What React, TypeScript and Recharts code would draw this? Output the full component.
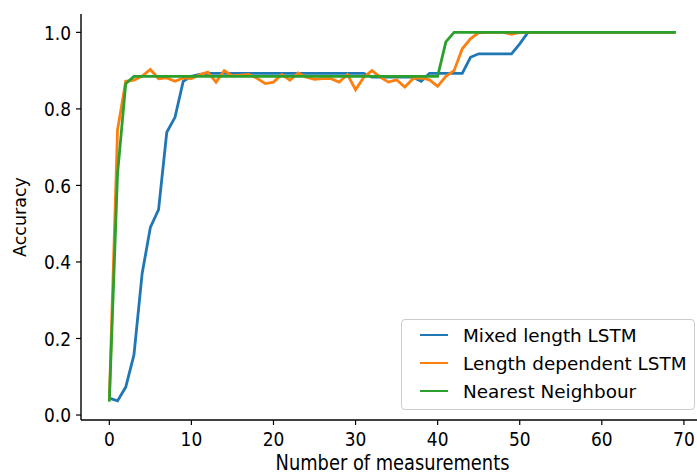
import { LineChart, Line, XAxis, YAxis, Legend } from "recharts";

// number of measurements (x categories)
const measurements = [
  0, 1, 2, 3, 4, 5, 6, 7, 8, 9, 10, 11, 12, 13, 14, 15, 16, 17, 18, 19,
  20, 21, 22, 23, 24, 25, 26, 27, 28, 29, 30, 31, 32, 33, 34, 35, 36, 37, 38, 39,
  40, 41, 42, 43, 44, 45, 46, 47, 48, 49, 50, 51, 52, 53, 54, 55, 56, 57, 58, 59,
  60, 61, 62, 63, 64, 65, 66, 67, 68, 69,
];

const mixedLength = [
  0.044, 0.037, 0.073, 0.157, 0.37, 0.49, 0.537, 0.739, 0.778, 0.872,
  0.885, 0.89, 0.893, 0.893, 0.893, 0.893, 0.893, 0.893, 0.893, 0.893,
  0.893, 0.893, 0.893, 0.893, 0.893, 0.893, 0.893, 0.893, 0.893, 0.893,
  0.893, 0.893, 0.883, 0.883, 0.883, 0.883, 0.883, 0.883, 0.872, 0.893,
  0.893, 0.893, 0.893, 0.893, 0.935, 0.944, 0.944, 0.944, 0.944, 0.944,
  0.97, 1.0, 1.0, 1.0, 1.0, 1.0, 1.0, 1.0, 1.0, 1.0,
  1.0, 1.0, 1.0, 1.0, 1.0, 1.0, 1.0, 1.0, 1.0, 1.0,
];

const lengthDependent = [
  0.04, 0.745, 0.872, 0.875, 0.886, 0.903, 0.879, 0.881, 0.872, 0.881,
  0.879, 0.889, 0.896, 0.87, 0.9, 0.886, 0.888, 0.89, 0.88, 0.866,
  0.87, 0.89, 0.875, 0.894, 0.883, 0.877, 0.879, 0.879, 0.87, 0.89,
  0.85, 0.883, 0.9, 0.883, 0.87, 0.876, 0.857, 0.879, 0.881, 0.876,
  0.859, 0.885, 0.9, 0.957, 0.983, 0.999, 1.0, 1.0, 1.0, 0.995,
  1.0, 1.0, 1.0, 1.0, 1.0, 1.0, 1.0, 1.0, 1.0, 1.0,
  1.0, 1.0, 1.0, 1.0, 1.0, 1.0, 1.0, 1.0, 1.0, 1.0,
];

const nearestNeighbour = [
  0.035, 0.63, 0.866, 0.885, 0.885, 0.885, 0.885, 0.885, 0.885, 0.885,
  0.885, 0.885, 0.885, 0.885, 0.885, 0.885, 0.885, 0.885, 0.885, 0.885,
  0.885, 0.885, 0.885, 0.885, 0.885, 0.885, 0.885, 0.885, 0.885, 0.885,
  0.885, 0.885, 0.885, 0.885, 0.885, 0.885, 0.885, 0.885, 0.885, 0.885,
  0.885, 0.975, 1.0, 1.0, 1.0, 1.0, 1.0, 1.0, 1.0, 1.0,
  1.0, 1.0, 1.0, 1.0, 1.0, 1.0, 1.0, 1.0, 1.0, 1.0,
  1.0, 1.0, 1.0, 1.0, 1.0, 1.0, 1.0, 1.0, 1.0, 1.0,
];

const xTicks = [0, 10, 20, 30, 40, 50, 60, 70];
const yTicks = [0, 0.2, 0.4, 0.6, 0.8, 1.0];

const series = [
  { key: "mixed", name: "Mixed length LSTM", color: "#1f77b4" },
  { key: "length", name: "Length dependent LSTM", color: "#ff7f0e" },
  { key: "nearest", name: "Nearest Neighbour", color: "#2ca02c" },
];

const data = measurements.map((n, i) => ({
  n,
  mixed: mixedLength[i],
  length: lengthDependent[i],
  nearest: nearestNeighbour[i],
}));

const FONT = "'DejaVu Sans', sans-serif";
// the reference tick text is a bit narrow, so squeeze it sideways
const SQUEEZE = 0.85;

function XTick({ x, y, payload }: any) {
  return (
    <text
      transform={`translate(${x},${y}) scale(${SQUEEZE},1)`}
      textAnchor="middle"
      dy="0.71em"
      fontSize={20}
      fill="#000"
      fontFamily={FONT}
    >
      {payload.value}
    </text>
  );
}

function YTick({ x, y, payload }: any) {
  return (
    <text
      transform={`translate(${x},${y}) scale(${SQUEEZE},1)`}
      textAnchor="end"
      dy="0.36em"
      fontSize={20}
      fill="#000"
      fontFamily={FONT}
    >
      {Number(payload.value).toFixed(1)}
    </text>
  );
}

function XLabel({ viewBox }: any) {
  const cx = viewBox.x + viewBox.width / 2;
  const by = viewBox.y + viewBox.height - 6;
  return (
    <text
      transform={`translate(${cx},${by}) scale(${SQUEEZE},1)`}
      textAnchor="middle"
      fontSize={21}
      fill="#000"
      fontFamily={FONT}
    >
      Number of measurements
    </text>
  );
}

function YLabel({ viewBox }: any) {
  const cy = viewBox.y + viewBox.height / 2;
  return (
    <text
      transform={`translate(20,${cy}) rotate(-90)`}
      textAnchor="middle"
      dy="0.36em"
      fontSize={17.5}
      fill="#000"
      fontFamily={FONT}
    >
      Accuracy
    </text>
  );
}

function LegendBox() {
  return (
    <div
      style={{
        width: 294,
        height: 91,
        boxSizing: "border-box",
        border: "1px solid #cccccc",
        borderRadius: 4,
        background: "rgba(255,255,255,0.8)",
        paddingTop: 1,
        fontFamily: FONT,
        fontSize: 18.4,
        color: "#000",
      }}
    >
      {series.map((s) => (
        <div
          key={s.key}
          style={{ display: "flex", alignItems: "center", height: 28 }}
        >
          <span
            style={{
              display: "inline-block",
              marginLeft: 18,
              width: 28,
              height: 2.8,
              background: s.color,
            }}
          />
          <span style={{ marginLeft: 15, whiteSpace: "nowrap" }}>{s.name}</span>
        </div>
      ))}
    </div>
  );
}

export default function App() {
  return (
    <div
      style={{
        position: "absolute",
        left: 0,
        top: 0,
        width: 697,
        height: 476,
        overflow: "hidden",
        background: "#fff",
        fontFamily: FONT,
      }}
    >
      <LineChart
        width={718}
        height={476}
        data={data}
        margin={{ top: 14, right: 14, bottom: 0, left: 0 }}
      >
        <XAxis
          dataKey="n"
          type="number"
          domain={[-3.45, 72.45]}
          ticks={xTicks}
          height={56}
          tick={<XTick />}
          tickSize={5}
          tickMargin={7}
          tickLine={{ stroke: "#000", strokeWidth: 1.2 }}
          axisLine={{ stroke: "#000", strokeWidth: 1.4 }}
          allowDataOverflow
          label={<XLabel />}
        />
        <XAxis
          xAxisId="top"
          orientation="top"
          type="number"
          domain={[-3.45, 72.45]}
          height={0}
          tick={false}
          tickLine={false}
          axisLine={{ stroke: "#000", strokeWidth: 1.4 }}
        />
        <YAxis
          type="number"
          domain={[-0.013, 1.048]}
          ticks={yTicks}
          width={81}
          tick={<YTick />}
          tickSize={5}
          tickMargin={5}
          tickLine={{ stroke: "#000", strokeWidth: 1.2 }}
          axisLine={{ stroke: "#000", strokeWidth: 1.4 }}
          allowDataOverflow
          label={<YLabel />}
        />
        {series.map((s) => (
          <Line
            key={s.key}
            dataKey={s.key}
            name={s.name}
            type="linear"
            stroke={s.color}
            strokeWidth={2.8}
            dot={false}
            activeDot={false}
            isAnimationActive={false}
          />
        ))}
        <Legend
          layout="vertical"
          align="center"
          verticalAlign="middle"
          content={() => <LegendBox />}
          wrapperStyle={{ left: 401, top: 319, width: 294, height: 91 }}
        />
      </LineChart>
    </div>
  );
}
